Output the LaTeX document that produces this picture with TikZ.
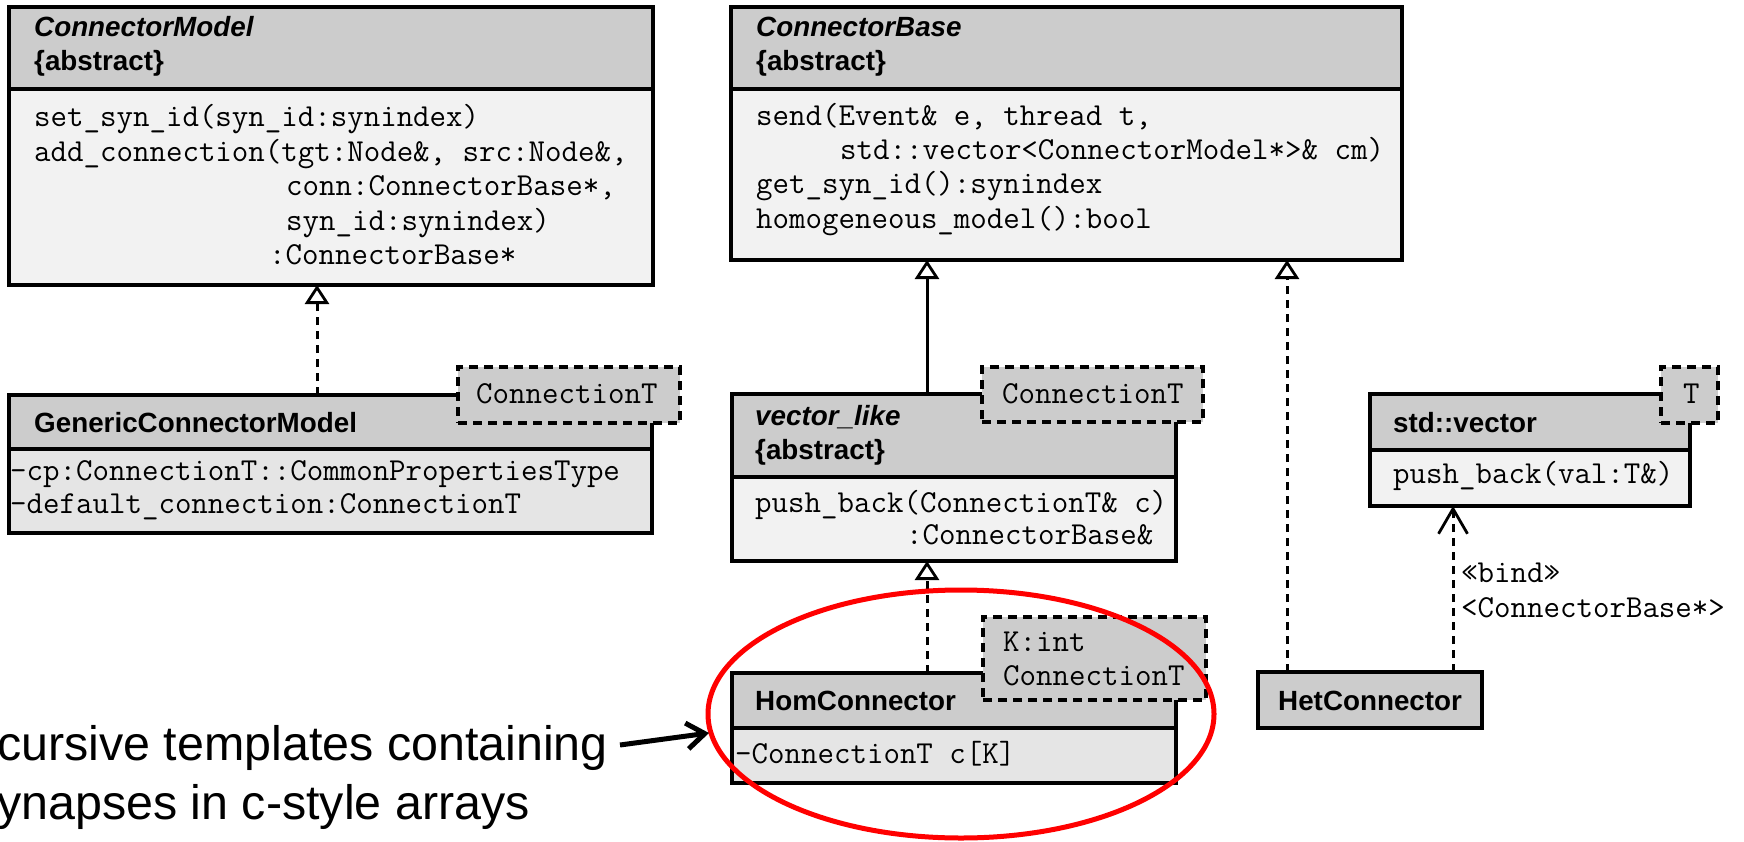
\documentclass[tikz,border=0pt]{standalone}
\usepackage{fontspec}
\setmainfont{Liberation Sans}
\usetikzlibrary{arrows.meta}
\definecolor{hdrgray}{HTML}{CCCCCC}
\definecolor{bodylite}{HTML}{F2F2F2}
\definecolor{bodydark}{HTML}{E5E5E5}
\definecolor{hired}{HTML}{FF0000}
\tikzset{
  basebox/.style={draw=black, line width=3.2pt, inner sep=0pt, outer sep=0pt, anchor=north west, rectangle},
  hdrbox/.style={basebox, fill=hdrgray},
  litebox/.style={basebox, fill=bodylite},
  darkbox/.style={basebox, fill=bodydark},
  tplbox/.style={basebox, line width=3.6pt, fill=hdrgray, dash pattern=on 9pt off 6pt},
  clsname/.style={anchor=base west, inner sep=0pt, font=\fontsize{27.8}{33}\selectfont\bfseries},
  clsital/.style={anchor=base west, inner sep=0pt, font=\fontsize{27.8}{33}\selectfont\bfseries\itshape},
  mono/.style={anchor=base west, inner sep=0pt, font=\fontsize{32}{36}\selectfont\ttfamily},
  notetext/.style={anchor=base west, inner sep=0pt, font=\fontsize{48.4}{58}\selectfont},
  realize/.style={line width=3pt, dash pattern=on 8pt off 6pt, -{Triangle[length=19pt, width=24pt, fill=white, line width=2.8pt]}},
  inherit/.style={line width=3pt, -{Triangle[length=19pt, width=24pt, fill=white, line width=2.8pt]}},
  bindarrow/.style={line width=3pt, dash pattern=on 8pt off 6pt, -{Straight Barb[length=25pt, width=29pt, line width=2.8pt]}},
  notearrow/.style={line width=5pt, -{Straight Barb[length=18pt, width=26pt, line width=5pt]}},
}
\begin{document}
\begin{tikzpicture}[x=1pt, y=-1pt]
\useasboundingbox (0,0) rectangle (1744,842);

% ---------- ConnectorModel ----------
\node[hdrbox, minimum width=644pt, minimum height=82pt] (cmH) at (9,7) {};
\node[litebox, minimum width=644pt, minimum height=196pt] (cmB) at (9,89) {};
\node[clsital] (cmT1) at (34,37) {ConnectorModel};
\node[clsname] (cmT2) at (34,71) {\{abstract\}};
\node[mono] (cmL1) at (34,127) {set\_syn\_id(syn\_id:synindex)};
\node[mono] (cmL2) at (34,162) {add\_connection(tgt:Node\&, src:Node\&,};
\node[mono] (cmL3) at (286,196) {conn:ConnectorBase*,};
\node[mono] (cmL4) at (286,231) {syn\_id:synindex)};
\node[mono] (cmL5) at (269,265) {:ConnectorBase*};

% ---------- ConnectorBase ----------
\node[hdrbox, minimum width=671pt, minimum height=82pt] (cbH) at (731,7) {};
\node[litebox, minimum width=671pt, minimum height=171pt] (cbB) at (731,89) {};
\node[clsital] (cbT1) at (756,37) {ConnectorBase};
\node[clsname] (cbT2) at (756,71) {\{abstract\}};
\node[mono] (cbL1) at (756,126) {send(Event\& e, thread t,};
\node[mono] (cbL2) at (840,160) {std::vector<ConnectorModel*>\& cm)};
\node[mono] (cbL3) at (756,194) {get\_syn\_id():synindex};
\node[mono] (cbL4) at (756,229) {homogeneous\_model():bool};

% ---------- GenericConnectorModel ----------
\node[hdrbox, minimum width=643pt, minimum height=54pt] (gcH) at (9,395) {};
\node[darkbox, minimum width=643pt, minimum height=84pt] (gcB) at (9,449) {};
\node[clsname] (gcT1) at (34,432) {GenericConnectorModel};
\node[mono] (gcL1) at (10,480) {-cp:ConnectionT::CommonPropertiesType};
\node[mono] (gcL2) at (10,513) {-default\_connection:ConnectionT};
\node[tplbox, minimum width=222pt, minimum height=56pt] (gcP) at (458,367) {};
\node[mono] (gcPT) at (476,403) {ConnectionT};

% ---------- vector_like ----------
\node[hdrbox, minimum width=444pt, minimum height=83pt] (vlH) at (732,394) {};
\node[litebox, minimum width=444pt, minimum height=84pt] (vlB) at (732,477) {};
\node[clsital] (vlT1) at (755,425) {vector\_like};
\node[clsname] (vlT2) at (755,459) {\{abstract\}};
\node[mono] (vlL1) at (755,512) {push\_back(ConnectionT\& c)};
\node[mono] (vlL2) at (906,544) {:ConnectorBase\&};
\node[tplbox, minimum width=221pt, minimum height=55pt] (vlP) at (982,367) {};
\node[mono] (vlPT) at (1002,403) {ConnectionT};

% ---------- HomConnector ----------
\node[hdrbox, minimum width=444pt, minimum height=55pt] (hoH) at (732,673) {};
\node[darkbox, minimum width=444pt, minimum height=55pt] (hoB) at (732,728) {};
\node[clsname] (hoT1) at (755,710) {HomConnector};
\node[mono] (hoL1) at (735,763) {-ConnectionT c[K]};
\node[tplbox, minimum width=223pt, minimum height=83pt] (hoP) at (983,617) {};
\node[mono] (hoPT1) at (1003,651) {K:int};
\node[mono] (hoPT2) at (1003,685) {ConnectionT};

% ---------- HetConnector ----------
\node[hdrbox, minimum width=224pt, minimum height=56pt] (heH) at (1258,672) {};
\node[clsname] (heT1) at (1278,710) {HetConnector};

% ---------- std::vector ----------
\node[hdrbox, minimum width=320pt, minimum height=56pt] (svH) at (1370,394) {};
\node[litebox, minimum width=320pt, minimum height=56pt] (svB) at (1370,450) {};
\node[clsname] (svT1) at (1393,432) {std::vector};
\node[mono] (svL1) at (1393,483) {push\_back(val:T\&)};
\node[tplbox, minimum width=57pt, minimum height=56pt] (svP) at (1661,367) {};
\node[mono] (svPT) at (1683,403) {T};

% ---------- connectors ----------
\coordinate (xa) at (317,0);
\coordinate (xb) at (927,0);
\coordinate (xc) at (1287,0);
\coordinate (xd) at (1453,0);
\draw[realize] (xa |- gcH.north) -- (xa |- cmB.south);
\draw[inherit] (xb |- vlH.north) -- (xb |- cbB.south);
\draw[realize] (xb |- hoH.north) -- (xb |- vlB.south);
\draw[realize] (xc |- heH.north) -- (xc |- cbB.south);
\draw[bindarrow] (xd |- heH.north) -- (xd |- svB.south);
\node[mono] (bind1) at (1461,582) {«bind»};
\node[mono] (bind2) at (1461,617) {<ConnectorBase*>};

% ---------- highlight and note ----------
\draw[hired, line width=5pt] (961,714) ellipse [x radius=253, y radius=124];
\node[notetext] (note1) at (-3,760) {cursive templates containing};
\node[notetext] (note2) at (-3,819) {ynapses in c-style arrays};
\coordinate (arrS) at (620,745);
\coordinate (arrE) at (709,733);
\draw[notearrow] (arrS) -- (arrE);
\end{tikzpicture}
\end{document}
